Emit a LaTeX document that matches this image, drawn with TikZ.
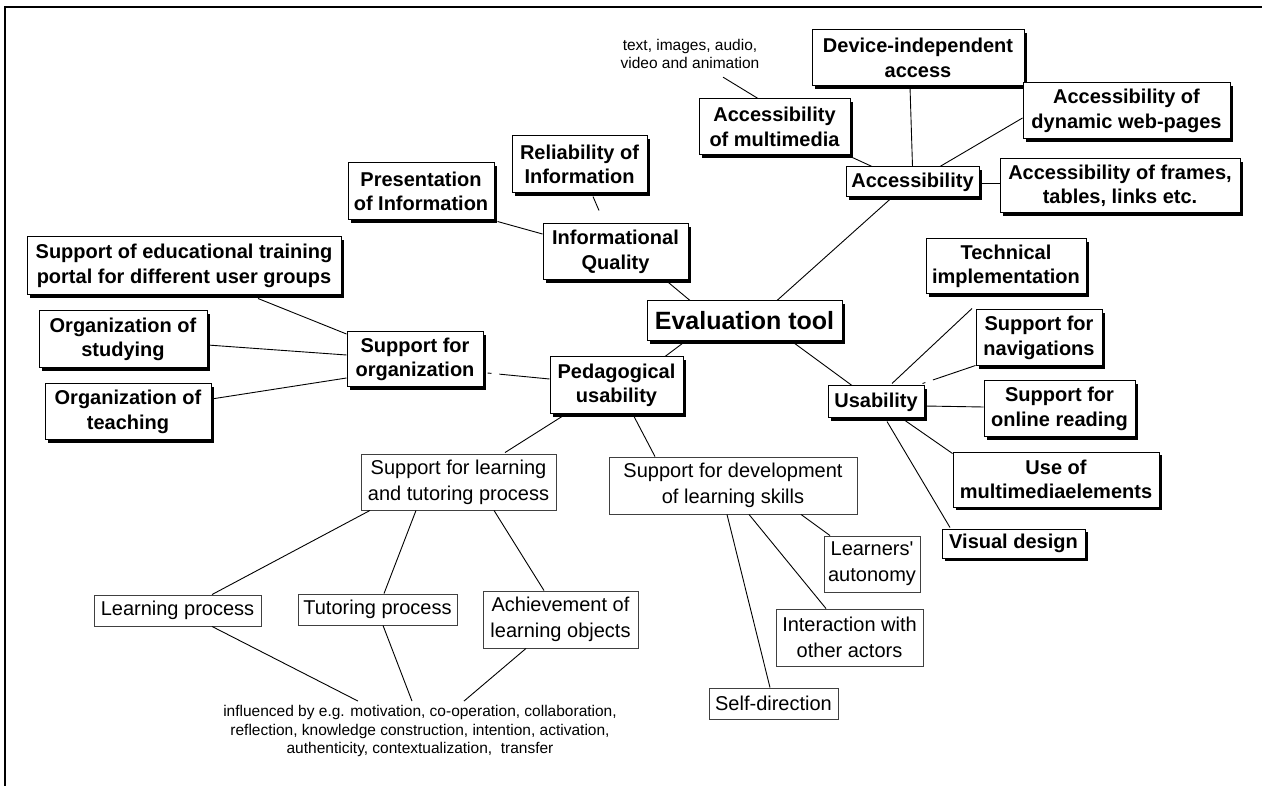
\documentclass[tikz,border=0pt]{standalone}
\usepackage{fontspec}
\setmainfont{Liberation Sans}[Ligatures=TeXOff]
\usetikzlibrary{shadows}
\begin{document}
\begin{tikzpicture}[x=1pt,y=-1pt,
  bbox/.style={draw=black, fill=white, line width=1pt, inner sep=0pt, align=center,
    font=\fontsize{20}{24.5}\selectfont\bfseries,
    drop shadow={shadow xshift=3pt,shadow yshift=-3pt,fill=black,opacity=1}},
  tbox/.style={draw=black!75, fill=white, line width=0.9pt, inner sep=0pt, align=center,
    font=\fontsize{20}{26}\selectfont},
  note/.style={inner sep=0pt, align=center, font=\fontsize{15.5}{18.5}\selectfont},
  link/.style={draw=black, line width=0.9pt}]
\useasboundingbox (0,0) rectangle (1262,786);
\fill[white] (0,0) rectangle (1262,786);
\draw[line width=2pt] (5,786) -- (5,7) -- (1262,7);

% bold boxes
\node[bbox, minimum width=212pt, minimum height=56pt] (dev) at (918,58) {Device-independent\\access};
\node[bbox, minimum width=207pt, minimum height=56pt] (dyn) at (1126.5,111) {Accessibility of\\dynamic web-pages};
\node[bbox, minimum width=133pt, minimum height=30pt] (acc) at (912.5,182) {Accessibility};
\node[bbox, minimum width=240pt, minimum height=54pt] (frm) at (1120,186) {Accessibility of frames,\\tables, links etc.};
\node[bbox, minimum width=160pt, minimum height=55pt] (tech) at (1006,266.5) {Technical\\implementation};
\node[bbox, minimum width=151pt, minimum height=56pt] (mm) at (774.5,127) {Accessibility\\of multimedia};
\node[bbox, minimum width=135pt, minimum height=57pt] (rel) at (579.5,164.5) {Reliability of\\Information};
\node[bbox, minimum width=146pt, minimum height=57pt] (pres) at (421,191.5) {Presentation\\of Information};
\node[bbox, minimum width=145pt, minimum height=56pt] (iq) at (615.5,252) {Informational\\Quality};
\node[bbox, minimum width=314pt, minimum height=58pt] (edu) at (184,266) {Support of educational training\\portal for different user groups};
\node[bbox, minimum width=168pt, minimum height=57pt] (ost) at (123,339.5) {Organization of\\studying};
\node[bbox, minimum width=166pt, minimum height=56pt] (ote) at (128,412) {Organization of\\teaching};
\node[bbox, minimum width=136pt, minimum height=55pt] (sorg) at (415,359.5) {Support for\\organization};
\node[bbox, minimum width=195pt, minimum height=40pt, font=\fontsize{25}{30}\selectfont\bfseries] (eval) at (744.5,321) {Evaluation tool};
\node[bbox, minimum width=133pt, minimum height=57pt] (ped) at (616.5,385.5) {Pedagogical\\usability};
\node[bbox, minimum width=96pt, minimum height=32pt] (usa) at (876,402) {Usability};
\node[bbox, minimum width=126pt, minimum height=56pt] (nav) at (1039,338) {Support for\\navigations};
\node[bbox, minimum width=151pt, minimum height=56pt] (read) at (1059.5,409) {Support for\\online reading};
\node[bbox, minimum width=206pt, minimum height=55pt] (mme) at (1056,479.5) {Use of\\multimediaelements};
\node[bbox, minimum width=143pt, minimum height=29pt] (vis) at (1013.5,543.5) {Visual design};

% thin boxes
\node[tbox, minimum width=195pt, minimum height=56pt] (slt) at (458.5,482) {Support for learning\\and tutoring process};
\node[tbox, minimum width=248pt, minimum height=57pt] (sdev) at (733,485.5) {Support for development\\of learning skills};
\node[tbox, minimum width=167pt, minimum height=31pt] (lp) at (177.5,610.5) {Learning process};
\node[tbox, minimum width=159pt, minimum height=31pt] (tp) at (377.5,609.5) {Tutoring process};
\node[tbox, minimum width=155pt, minimum height=57pt] (ach) at (560.5,619.5) {Achievement of\\learning objects};
\node[tbox, minimum width=96pt, minimum height=56pt] (la) at (872,564) {Learners'\\autonomy};
\node[tbox, minimum width=147pt, minimum height=57pt] (ia) at (849.5,637.5) {Interaction with\\other actors};
\node[tbox, minimum width=129pt, minimum height=31pt] (sd) at (773.5,703.5) {Self-direction};

% plain notes
\node[note] (tia) at (690,54) {text, images, audio,\\video and animation};
\node[note] (infl) at (420,731) {influenced by e.g. motivation, co-operation, collaboration,\\reflection, knowledge construction, intention, activation,\\authenticity, contextualization,\ \ transfer};

% connectors: evaluation tool
\draw[link] ([xshift=-54.5pt]eval.north) -- ([xshift=50.5pt]iq.south);
\draw[link] ([xshift=32.5pt]eval.north) -- ([xshift=-20.5pt]acc.south);
\draw[link] ([xshift=-59.5pt]eval.south) -- ([xshift=48.5pt]ped.north);
\draw[link] ([xshift=47.5pt]eval.south) -- ([xshift=-24pt]usa.north);

% accessibility
\draw[link] ([xshift=-8pt]dev.south) -- (acc.north);
\draw[link] ([xshift=-40.5pt]acc.north) -- ([xshift=73.5pt]mm.south);
\draw[link] ([xshift=27.5pt]acc.north) -- ([yshift=-7pt]dyn.west);
\draw[link] ([yshift=-1pt]acc.east) -- ([yshift=3pt]frm.west);
\draw[link] ([xshift=-16.5pt]mm.north) -- ([xshift=33pt,yshift=-8pt]tia.south);

% informational quality
\draw[link] ([xshift=13.5pt,yshift=-3pt]rel.south) -- ([xshift=-16.5pt,yshift=13pt]iq.north);
\draw[link] ([xshift=3pt,yshift=-1pt]pres.south east) -- ([yshift=18pt]iq.west);

% support for organization
\draw[link] ([xshift=74pt,yshift=-3pt]edu.south) -- ([yshift=25.5pt]sorg.west);
\draw[link] ([yshift=-5.5pt]ost.east) -- ([yshift=4.5pt]sorg.west);
\draw[link] ([yshift=13pt]ote.east) -- ([yshift=-18.5pt]sorg.west);
\draw[link, dash pattern=on 4pt off 8pt on 200pt] ([xshift=4pt,yshift=-13.5pt]sorg.east) -- ([yshift=6.5pt]ped.west);

% pedagogical usability
\draw[link] ([xshift=-54.5pt,yshift=-2pt]ped.south) -- ([xshift=46.5pt,yshift=1pt]slt.north);
\draw[link] ([xshift=17.5pt,yshift=-2pt]ped.south) -- ([xshift=-78pt]sdev.north);

% support for learning and tutoring
\draw[link] ([xshift=-88.5pt]slt.south) -- ([xshift=34.5pt]lp.north);
\draw[link] ([xshift=-42.5pt]slt.south) -- ([xshift=6.5pt]tp.north);
\draw[link] ([xshift=35.5pt]slt.south) -- ([xshift=-16.5pt]ach.north);
\draw[link] ([xshift=34.5pt]lp.south) -- ([xshift=-62pt,yshift=4pt]infl.north);
\draw[link] ([xshift=5.5pt]tp.south) -- ([xshift=-8pt,yshift=4pt]infl.north);
\draw[link] ([xshift=-34.5pt]ach.south) -- ([xshift=44pt,yshift=4pt]infl.north);

% development of learning skills
\draw[link] ([xshift=-6pt]sdev.south) -- ([xshift=-3.5pt]sd.north);
\draw[link] ([xshift=16pt]sdev.south) -- ([xshift=-23.5pt]ia.north);
\draw[link] ([xshift=68pt]sdev.south) -- ([xshift=-42pt]la.north);

% usability
\draw[link] ([xshift=16pt,yshift=2pt]usa.north) -- ([xshift=-34pt,yshift=-14pt]tech.south);
\draw[link, dash pattern=on 3pt off 8pt on 200pt] ([xshift=-2pt,yshift=2pt]usa.north east) -- ([yshift=1pt]nav.south west);
\draw[link] ([yshift=-4pt]usa.east) -- ([yshift=2pt]read.west);
\draw[link] ([xshift=29pt,yshift=-2pt]usa.south) -- ([yshift=-2pt]mme.north west);
\draw[link] ([xshift=11pt,yshift=-3pt]usa.south) -- ([xshift=-63.5pt,yshift=1pt]vis.north);
\end{tikzpicture}
\end{document}
